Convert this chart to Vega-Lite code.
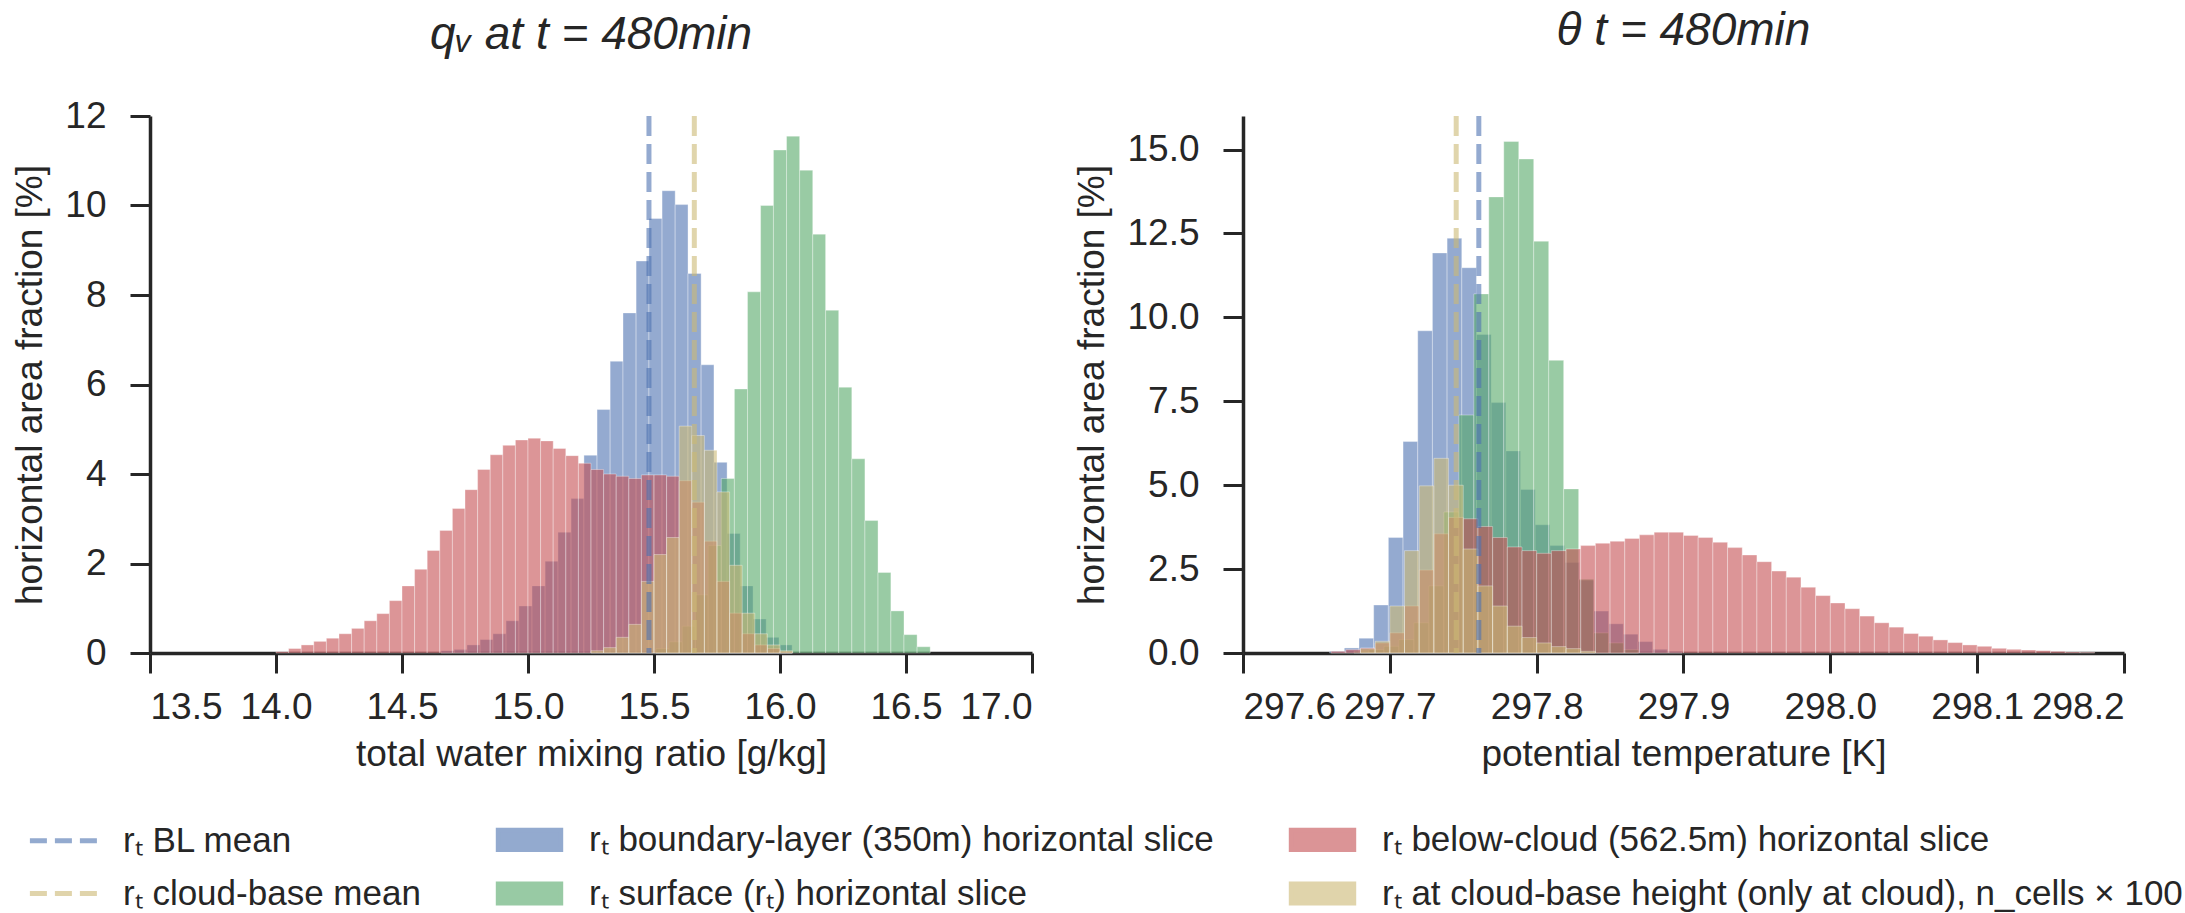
{
"$schema": "https://vega.github.io/schema/vega-lite/v6.json",
"background": "white",
"padding": {"left": 11, "top": 7, "right": 10, "bottom": 0},
"autosize": {"type": "pad"},
"spacing": 39,
"datasets": {
"means": [
{"p":"q","s":"bl_mean","x":15.48},{"p":"q","s":"cb_mean","x":15.66},
{"p":"t","s":"bl_mean","x":297.7606},{"p":"t","s":"cb_mean","x":297.7452}
],
"bars": [
{"p":"q","s":"bl","x0":14.655,"x1":14.707,"y":0.05},{"p":"q","s":"bl","x0":14.707,"x1":14.758,"y":0.08},{"p":"q","s":"bl","x0":14.758,"x1":14.810,"y":0.18},{"p":"q","s":"bl","x0":14.810,"x1":14.861,"y":0.3},{"p":"q","s":"bl","x0":14.861,"x1":14.913,"y":0.43},{"p":"q","s":"bl","x0":14.913,"x1":14.964,"y":0.72},{"p":"q","s":"bl","x0":14.964,"x1":15.016,"y":1.05},{"p":"q","s":"bl","x0":15.016,"x1":15.068,"y":1.5},{"p":"q","s":"bl","x0":15.068,"x1":15.119,"y":2.05},{"p":"q","s":"bl","x0":15.119,"x1":15.171,"y":2.7},{"p":"q","s":"bl","x0":15.171,"x1":15.222,"y":3.45},{"p":"q","s":"bl","x0":15.222,"x1":15.274,"y":4.42},{"p":"q","s":"bl","x0":15.274,"x1":15.326,"y":5.44},{"p":"q","s":"bl","x0":15.326,"x1":15.377,"y":6.52},{"p":"q","s":"bl","x0":15.377,"x1":15.429,"y":7.6},{"p":"q","s":"bl","x0":15.429,"x1":15.480,"y":8.76},{"p":"q","s":"bl","x0":15.480,"x1":15.532,"y":9.71},{"p":"q","s":"bl","x0":15.532,"x1":15.584,"y":10.33},{"p":"q","s":"bl","x0":15.584,"x1":15.635,"y":10.02},{"p":"q","s":"bl","x0":15.635,"x1":15.687,"y":8.48},{"p":"q","s":"bl","x0":15.687,"x1":15.738,"y":6.44},{"p":"q","s":"bl","x0":15.738,"x1":15.790,"y":4.26},{"p":"q","s":"bl","x0":15.790,"x1":15.842,"y":2.67},{"p":"q","s":"bl","x0":15.842,"x1":15.893,"y":1.5},{"p":"q","s":"bl","x0":15.893,"x1":15.945,"y":0.76},{"p":"q","s":"bl","x0":15.945,"x1":15.996,"y":0.35},{"p":"q","s":"bl","x0":15.996,"x1":16.048,"y":0.18},
{"p":"q","s":"sf","x0":15.508,"x1":15.560,"y":0.1},{"p":"q","s":"sf","x0":15.560,"x1":15.612,"y":0.25},{"p":"q","s":"sf","x0":15.612,"x1":15.664,"y":0.6},{"p":"q","s":"sf","x0":15.664,"x1":15.715,"y":1.3},{"p":"q","s":"sf","x0":15.715,"x1":15.767,"y":2.4},{"p":"q","s":"sf","x0":15.767,"x1":15.819,"y":3.9},{"p":"q","s":"sf","x0":15.819,"x1":15.871,"y":5.9},{"p":"q","s":"sf","x0":15.871,"x1":15.923,"y":8.07},{"p":"q","s":"sf","x0":15.923,"x1":15.974,"y":10.0},{"p":"q","s":"sf","x0":15.974,"x1":16.026,"y":11.24},{"p":"q","s":"sf","x0":16.026,"x1":16.078,"y":11.55},{"p":"q","s":"sf","x0":16.078,"x1":16.130,"y":10.79},{"p":"q","s":"sf","x0":16.130,"x1":16.181,"y":9.36},{"p":"q","s":"sf","x0":16.181,"x1":16.233,"y":7.66},{"p":"q","s":"sf","x0":16.233,"x1":16.285,"y":5.94},{"p":"q","s":"sf","x0":16.285,"x1":16.337,"y":4.34},{"p":"q","s":"sf","x0":16.337,"x1":16.389,"y":2.96},{"p":"q","s":"sf","x0":16.389,"x1":16.440,"y":1.8},{"p":"q","s":"sf","x0":16.440,"x1":16.492,"y":0.94},{"p":"q","s":"sf","x0":16.492,"x1":16.544,"y":0.41},{"p":"q","s":"sf","x0":16.544,"x1":16.596,"y":0.14},
{"p":"q","s":"bc","x0":14.00,"x1":14.05,"y":0.03},{"p":"q","s":"bc","x0":14.05,"x1":14.10,"y":0.1},{"p":"q","s":"bc","x0":14.10,"x1":14.15,"y":0.18},{"p":"q","s":"bc","x0":14.15,"x1":14.20,"y":0.26},{"p":"q","s":"bc","x0":14.20,"x1":14.25,"y":0.33},{"p":"q","s":"bc","x0":14.25,"x1":14.30,"y":0.43},{"p":"q","s":"bc","x0":14.30,"x1":14.35,"y":0.55},{"p":"q","s":"bc","x0":14.35,"x1":14.40,"y":0.72},{"p":"q","s":"bc","x0":14.40,"x1":14.45,"y":0.88},{"p":"q","s":"bc","x0":14.45,"x1":14.50,"y":1.17},{"p":"q","s":"bc","x0":14.50,"x1":14.55,"y":1.5},{"p":"q","s":"bc","x0":14.55,"x1":14.60,"y":1.87},{"p":"q","s":"bc","x0":14.60,"x1":14.65,"y":2.29},{"p":"q","s":"bc","x0":14.65,"x1":14.70,"y":2.74},{"p":"q","s":"bc","x0":14.70,"x1":14.75,"y":3.23},{"p":"q","s":"bc","x0":14.75,"x1":14.80,"y":3.65},{"p":"q","s":"bc","x0":14.80,"x1":14.85,"y":4.1},{"p":"q","s":"bc","x0":14.85,"x1":14.90,"y":4.43},{"p":"q","s":"bc","x0":14.90,"x1":14.95,"y":4.64},{"p":"q","s":"bc","x0":14.95,"x1":15.00,"y":4.76},{"p":"q","s":"bc","x0":15.00,"x1":15.05,"y":4.8},{"p":"q","s":"bc","x0":15.05,"x1":15.10,"y":4.74},{"p":"q","s":"bc","x0":15.10,"x1":15.15,"y":4.57},{"p":"q","s":"bc","x0":15.15,"x1":15.20,"y":4.41},{"p":"q","s":"bc","x0":15.20,"x1":15.25,"y":4.24},{"p":"q","s":"bc","x0":15.25,"x1":15.30,"y":4.1},{"p":"q","s":"bc","x0":15.30,"x1":15.35,"y":4.0},{"p":"q","s":"bc","x0":15.35,"x1":15.40,"y":3.95},{"p":"q","s":"bc","x0":15.40,"x1":15.45,"y":3.9},{"p":"q","s":"bc","x0":15.45,"x1":15.50,"y":3.98},{"p":"q","s":"bc","x0":15.50,"x1":15.55,"y":3.98},{"p":"q","s":"bc","x0":15.55,"x1":15.60,"y":3.95},{"p":"q","s":"bc","x0":15.60,"x1":15.65,"y":3.85},{"p":"q","s":"bc","x0":15.65,"x1":15.70,"y":3.37},{"p":"q","s":"bc","x0":15.70,"x1":15.75,"y":2.5},{"p":"q","s":"bc","x0":15.75,"x1":15.80,"y":1.6},{"p":"q","s":"bc","x0":15.80,"x1":15.85,"y":0.89},{"p":"q","s":"bc","x0":15.85,"x1":15.90,"y":0.43},{"p":"q","s":"bc","x0":15.90,"x1":15.95,"y":0.18},{"p":"q","s":"bc","x0":15.95,"x1":16.00,"y":0.1},{"p":"q","s":"bc","x0":16.00,"x1":16.05,"y":0.03},
{"p":"q","s":"cb","x0":15.25,"x1":15.30,"y":0.05},{"p":"q","s":"cb","x0":15.30,"x1":15.35,"y":0.12},{"p":"q","s":"cb","x0":15.35,"x1":15.40,"y":0.35},{"p":"q","s":"cb","x0":15.40,"x1":15.45,"y":0.64},{"p":"q","s":"cb","x0":15.45,"x1":15.50,"y":1.6},{"p":"q","s":"cb","x0":15.50,"x1":15.55,"y":2.2},{"p":"q","s":"cb","x0":15.55,"x1":15.60,"y":2.58},{"p":"q","s":"cb","x0":15.60,"x1":15.65,"y":5.07},{"p":"q","s":"cb","x0":15.65,"x1":15.70,"y":4.86},{"p":"q","s":"cb","x0":15.70,"x1":15.75,"y":4.53},{"p":"q","s":"cb","x0":15.75,"x1":15.80,"y":3.6},{"p":"q","s":"cb","x0":15.80,"x1":15.85,"y":1.96},{"p":"q","s":"cb","x0":15.85,"x1":15.90,"y":0.89},{"p":"q","s":"cb","x0":15.90,"x1":15.95,"y":0.43},{"p":"q","s":"cb","x0":15.95,"x1":16.00,"y":0.18},{"p":"q","s":"cb","x0":16.00,"x1":16.05,"y":0.05},
{"p":"t","s":"bl","x0":297.659,"x1":297.669,"y":0.05},{"p":"t","s":"bl","x0":297.669,"x1":297.679,"y":0.15},{"p":"t","s":"bl","x0":297.679,"x1":297.689,"y":0.44},{"p":"t","s":"bl","x0":297.689,"x1":297.699,"y":1.43},{"p":"t","s":"bl","x0":297.699,"x1":297.709,"y":3.44},{"p":"t","s":"bl","x0":297.709,"x1":297.719,"y":6.3},{"p":"t","s":"bl","x0":297.719,"x1":297.729,"y":9.6},{"p":"t","s":"bl","x0":297.729,"x1":297.739,"y":11.92},{"p":"t","s":"bl","x0":297.739,"x1":297.749,"y":12.36},{"p":"t","s":"bl","x0":297.749,"x1":297.759,"y":11.48},{"p":"t","s":"bl","x0":297.759,"x1":297.769,"y":9.49},{"p":"t","s":"bl","x0":297.769,"x1":297.779,"y":7.46},{"p":"t","s":"bl","x0":297.779,"x1":297.789,"y":6.02},{"p":"t","s":"bl","x0":297.789,"x1":297.799,"y":4.87},{"p":"t","s":"bl","x0":297.799,"x1":297.809,"y":3.82},{"p":"t","s":"bl","x0":297.809,"x1":297.819,"y":3.2},{"p":"t","s":"bl","x0":297.819,"x1":297.829,"y":2.7},{"p":"t","s":"bl","x0":297.829,"x1":297.839,"y":2.17},{"p":"t","s":"bl","x0":297.839,"x1":297.849,"y":1.25},{"p":"t","s":"bl","x0":297.849,"x1":297.859,"y":0.87},{"p":"t","s":"bl","x0":297.859,"x1":297.869,"y":0.56},{"p":"t","s":"bl","x0":297.869,"x1":297.879,"y":0.34},{"p":"t","s":"bl","x0":297.879,"x1":297.889,"y":0.11},{"p":"t","s":"bl","x0":297.889,"x1":297.899,"y":0.05},
{"p":"t","s":"sf","x0":297.6756,"x1":297.6858,"y":0.05},{"p":"t","s":"sf","x0":297.6858,"x1":297.696,"y":0.1},{"p":"t","s":"sf","x0":297.696,"x1":297.7062,"y":0.2},{"p":"t","s":"sf","x0":297.7062,"x1":297.7164,"y":0.4},{"p":"t","s":"sf","x0":297.7164,"x1":297.7266,"y":0.9},{"p":"t","s":"sf","x0":297.7266,"x1":297.7368,"y":2.0},{"p":"t","s":"sf","x0":297.7368,"x1":297.747,"y":4.2},{"p":"t","s":"sf","x0":297.747,"x1":297.7572,"y":7.09},{"p":"t","s":"sf","x0":297.7572,"x1":297.7674,"y":10.7},{"p":"t","s":"sf","x0":297.7674,"x1":297.7776,"y":13.59},{"p":"t","s":"sf","x0":297.7776,"x1":297.7878,"y":15.24},{"p":"t","s":"sf","x0":297.7878,"x1":297.798,"y":14.72},{"p":"t","s":"sf","x0":297.798,"x1":297.8082,"y":12.27},{"p":"t","s":"sf","x0":297.8082,"x1":297.8184,"y":8.72},{"p":"t","s":"sf","x0":297.8184,"x1":297.8286,"y":4.89},{"p":"t","s":"sf","x0":297.8286,"x1":297.8388,"y":2.2},{"p":"t","s":"sf","x0":297.8388,"x1":297.849,"y":0.6},{"p":"t","s":"sf","x0":297.849,"x1":297.8592,"y":0.3},{"p":"t","s":"sf","x0":297.8592,"x1":297.8694,"y":0.1},
{"p":"t","s":"bc","x0":297.66,"x1":297.67,"y":0.05},{"p":"t","s":"bc","x0":297.67,"x1":297.68,"y":0.1},{"p":"t","s":"bc","x0":297.68,"x1":297.69,"y":0.15},{"p":"t","s":"bc","x0":297.69,"x1":297.70,"y":0.3},{"p":"t","s":"bc","x0":297.70,"x1":297.71,"y":0.6},{"p":"t","s":"bc","x0":297.71,"x1":297.72,"y":1.4},{"p":"t","s":"bc","x0":297.72,"x1":297.73,"y":2.47},{"p":"t","s":"bc","x0":297.73,"x1":297.74,"y":3.55},{"p":"t","s":"bc","x0":297.74,"x1":297.75,"y":4.04},{"p":"t","s":"bc","x0":297.75,"x1":297.76,"y":4.0},{"p":"t","s":"bc","x0":297.76,"x1":297.77,"y":3.77},{"p":"t","s":"bc","x0":297.77,"x1":297.78,"y":3.44},{"p":"t","s":"bc","x0":297.78,"x1":297.79,"y":3.16},{"p":"t","s":"bc","x0":297.79,"x1":297.80,"y":3.05},{"p":"t","s":"bc","x0":297.80,"x1":297.81,"y":2.97},{"p":"t","s":"bc","x0":297.81,"x1":297.82,"y":3.05},{"p":"t","s":"bc","x0":297.82,"x1":297.83,"y":3.1},{"p":"t","s":"bc","x0":297.83,"x1":297.84,"y":3.2},{"p":"t","s":"bc","x0":297.84,"x1":297.85,"y":3.27},{"p":"t","s":"bc","x0":297.85,"x1":297.86,"y":3.33},{"p":"t","s":"bc","x0":297.86,"x1":297.87,"y":3.41},{"p":"t","s":"bc","x0":297.87,"x1":297.88,"y":3.52},{"p":"t","s":"bc","x0":297.88,"x1":297.89,"y":3.6},{"p":"t","s":"bc","x0":297.89,"x1":297.90,"y":3.6},{"p":"t","s":"bc","x0":297.90,"x1":297.91,"y":3.5},{"p":"t","s":"bc","x0":297.91,"x1":297.92,"y":3.44},{"p":"t","s":"bc","x0":297.92,"x1":297.93,"y":3.3},{"p":"t","s":"bc","x0":297.93,"x1":297.94,"y":3.14},{"p":"t","s":"bc","x0":297.94,"x1":297.95,"y":2.92},{"p":"t","s":"bc","x0":297.95,"x1":297.96,"y":2.72},{"p":"t","s":"bc","x0":297.96,"x1":297.97,"y":2.44},{"p":"t","s":"bc","x0":297.97,"x1":297.98,"y":2.26},{"p":"t","s":"bc","x0":297.98,"x1":297.99,"y":1.96},{"p":"t","s":"bc","x0":297.99,"x1":298.00,"y":1.71},{"p":"t","s":"bc","x0":298.00,"x1":298.01,"y":1.49},{"p":"t","s":"bc","x0":298.01,"x1":298.02,"y":1.32},{"p":"t","s":"bc","x0":298.02,"x1":298.03,"y":1.1},{"p":"t","s":"bc","x0":298.03,"x1":298.04,"y":0.9},{"p":"t","s":"bc","x0":298.04,"x1":298.05,"y":0.77},{"p":"t","s":"bc","x0":298.05,"x1":298.06,"y":0.58},{"p":"t","s":"bc","x0":298.06,"x1":298.07,"y":0.5},{"p":"t","s":"bc","x0":298.07,"x1":298.08,"y":0.39},{"p":"t","s":"bc","x0":298.08,"x1":298.09,"y":0.31},{"p":"t","s":"bc","x0":298.09,"x1":298.10,"y":0.24},{"p":"t","s":"bc","x0":298.10,"x1":298.11,"y":0.2},{"p":"t","s":"bc","x0":298.11,"x1":298.12,"y":0.14},{"p":"t","s":"bc","x0":298.12,"x1":298.13,"y":0.11},{"p":"t","s":"bc","x0":298.13,"x1":298.14,"y":0.09},{"p":"t","s":"bc","x0":298.14,"x1":298.15,"y":0.07},{"p":"t","s":"bc","x0":298.15,"x1":298.16,"y":0.05},{"p":"t","s":"bc","x0":298.16,"x1":298.17,"y":0.03},{"p":"t","s":"bc","x0":298.17,"x1":298.18,"y":0.02},
{"p":"t","s":"cb","x0":297.68,"x1":297.69,"y":0.13},{"p":"t","s":"cb","x0":297.69,"x1":297.70,"y":0.35},{"p":"t","s":"cb","x0":297.70,"x1":297.71,"y":1.4},{"p":"t","s":"cb","x0":297.71,"x1":297.72,"y":3.05},{"p":"t","s":"cb","x0":297.72,"x1":297.73,"y":4.98},{"p":"t","s":"cb","x0":297.73,"x1":297.74,"y":5.8},{"p":"t","s":"cb","x0":297.74,"x1":297.75,"y":5.0},{"p":"t","s":"cb","x0":297.75,"x1":297.76,"y":3.1},{"p":"t","s":"cb","x0":297.76,"x1":297.77,"y":2.0},{"p":"t","s":"cb","x0":297.77,"x1":297.78,"y":1.4},{"p":"t","s":"cb","x0":297.78,"x1":297.79,"y":0.8},{"p":"t","s":"cb","x0":297.79,"x1":297.80,"y":0.46},{"p":"t","s":"cb","x0":297.80,"x1":297.81,"y":0.3},{"p":"t","s":"cb","x0":297.81,"x1":297.82,"y":0.19},{"p":"t","s":"cb","x0":297.82,"x1":297.83,"y":0.13},{"p":"t","s":"cb","x0":297.83,"x1":297.84,"y":0.05}
]
},
"hconcat": [
{
"width": 882, "height": 537,
"title": {"text": "qᵥ at t = 480min"},
"layer": [
{
"data": {"name": "bars"},
"transform": [{"filter": "datum.p === 'q'"}],
"mark": {"type": "rect", "fillOpacity": 0.6, "stroke": "white", "strokeWidth": 1, "strokeOpacity": 0.35},
"encoding": {
"x": {"field": "x0", "type": "quantitative", "title": "total water mixing ratio [g/kg]", "scale": {"domain": [13.5, 17.0], "nice": false, "zero": false}, "axis": {"values": [13.5, 14.0, 14.5, 15.0, 15.5, 16.0, 16.5, 17.0], "format": ".1f"}},
"x2": {"field": "x1"},
"y": {"field": "y", "type": "quantitative", "title": "horizontal area fraction [%]", "scale": {"domain": [0, 12], "nice": false}, "axis": {"values": [0, 2, 4, 6, 8, 10, 12]}},
"y2": {"datum": 0},
"color": {"field": "s", "type": "nominal",
"scale": {"domain": ["bl_mean", "bl", "bc", "cb_mean", "sf", "cb"], "range": ["#4C72B0", "#4C72B0", "#C44E52", "#CCB974", "#55A868", "#CCB974"]},
"legend": {
"title": null, "orient": "none", "legendX": -104, "legendY": 706,
"direction": "horizontal", "columns": 3, "columnPadding": 67, "rowPadding": 13,
"padding": 0, "symbolSize": 576, "symbolStrokeWidth": 5, "labelOffset": 42,
"labelFont": "Liberation Sans", "labelFontSize": 35, "labelColor": "#262626", "labelLimit": 0,
"symbolOpacity": 0.6,
"symbolType": {"expr": "(datum.value === 'bl_mean' || datum.value === 'cb_mean') ? 'M-2.8,0H2.8' : 'M-2.6,-0.8H2.6V0.8H-2.6Z'"},
"symbolStrokeColor": {"expr": "datum.value === 'bl_mean' ? '#4C72B0' : datum.value === 'cb_mean' ? '#CCB974' : 'transparent'"},
"symbolDash": {"expr": "(datum.value === 'bl_mean' || datum.value === 'cb_mean') ? [17, 8] : []"},
"labelExpr": "datum.value === 'bl_mean' ? 'rₜ BL mean' : datum.value === 'bl' ? 'rₜ boundary-layer (350m) horizontal slice' : datum.value === 'bc' ? 'rₜ below-cloud (562.5m) horizontal slice' : datum.value === 'cb_mean' ? 'rₜ cloud-base mean' : datum.value === 'sf' ? 'rₜ surface (rₜ) horizontal slice' : 'rₜ at cloud-base height (only at cloud), n_cells × 100'"
}
}
}
},
{
"data": {"name": "means"},
"transform": [{"filter": "datum.p === 'q'"}],
"mark": {"type": "rule", "strokeDash": [20, 8], "strokeWidth": 5, "opacity": 0.6},
"encoding": {
"x": {"field": "x", "type": "quantitative"},
"color": {"field": "s", "type": "nominal", "legend": null}
}
}
]
},
{
"width": 881, "height": 537,
"title": {"text": "θ t = 480min", "dy": -21},
"layer": [
{
"data": {"name": "bars"},
"transform": [{"filter": "datum.p === 't'"}],
"mark": {"type": "rect", "fillOpacity": 0.6, "stroke": "white", "strokeWidth": 1, "strokeOpacity": 0.35},
"encoding": {
"x": {"field": "x0", "type": "quantitative", "title": "potential temperature [K]", "scale": {"domain": [297.6, 298.2], "nice": false, "zero": false}, "axis": {"values": [297.6, 297.7, 297.8, 297.9, 298.0, 298.1, 298.2], "format": ".1f"}},
"x2": {"field": "x1"},
"y": {"field": "y", "type": "quantitative", "title": "horizontal area fraction [%]", "scale": {"domain": [0, 16], "nice": false}, "axis": {"values": [0, 2.5, 5, 7.5, 10, 12.5, 15], "format": ".1f"}},
"y2": {"datum": 0},
"color": {"field": "s", "type": "nominal", "legend": null}
}
},
{
"data": {"name": "means"},
"transform": [{"filter": "datum.p === 't'"}],
"mark": {"type": "rule", "strokeDash": [20, 8], "strokeWidth": 5, "opacity": 0.6},
"encoding": {
"x": {"field": "x", "type": "quantitative"},
"color": {"field": "s", "type": "nominal", "legend": null}
}
}
]
}
],
"config": {
"view": {"stroke": null},
"font": "Liberation Sans",
"title": {"font": "Liberation Sans", "fontSize": 46, "fontStyle": "italic", "fontWeight": "normal", "color": "#262626", "offset": 38, "anchor": "middle", "frame": "group"},
"axis": {"grid": false, "domainColor": "#262626", "domainWidth": 3.5, "tickColor": "#262626", "tickWidth": 3, "tickSize": 20, "labelFont": "Liberation Sans", "labelFontSize": 37, "labelColor": "#262626", "titleFont": "Liberation Sans", "titleFontSize": 37, "titleFontWeight": "normal", "titleColor": "#262626"},
"axisX": {"labelPadding": 16, "titlePadding": 11},
"axisY": {"labelPadding": 24, "titlePadding": 15}
}
}
